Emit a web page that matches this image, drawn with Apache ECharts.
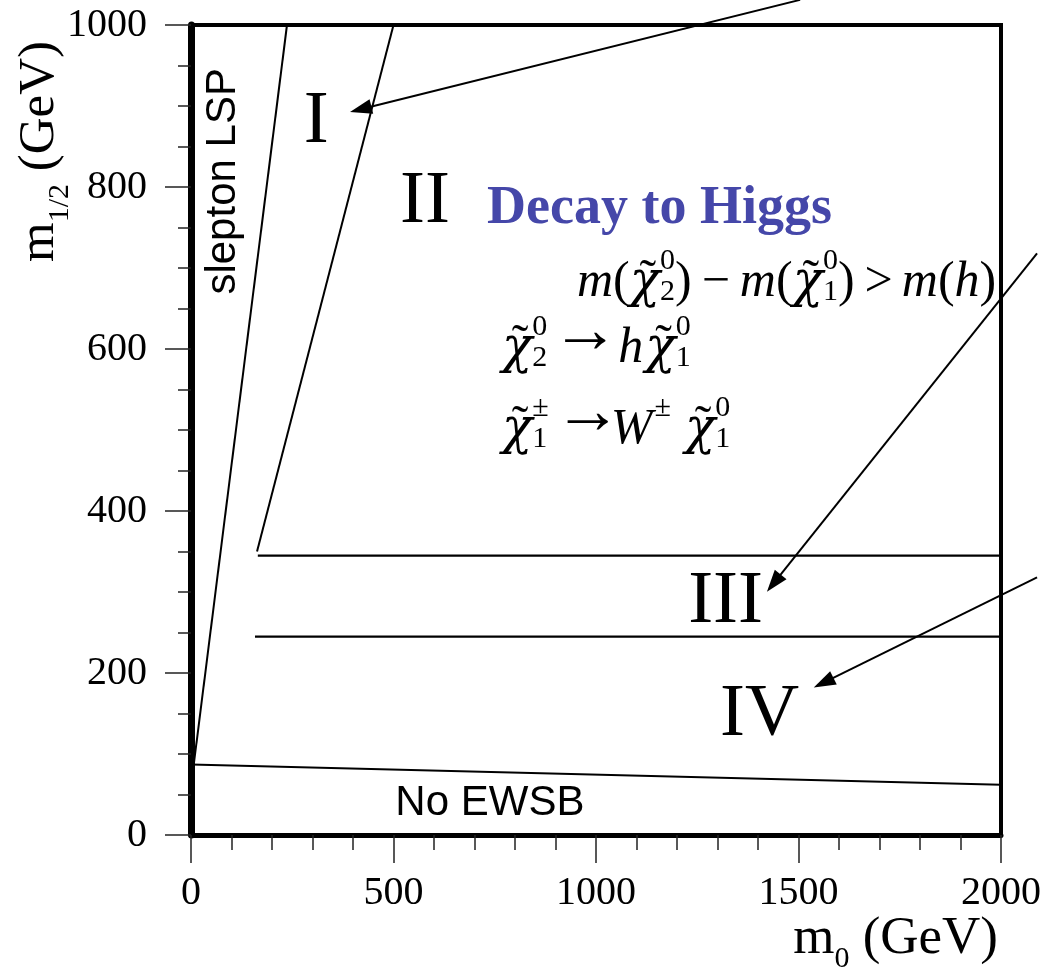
<!DOCTYPE html>
<html><head><meta charset="utf-8">
<script src="https://cdn.jsdelivr.net/npm/echarts@6/dist/echarts.min.js"></script>
<style>html,body{margin:0;padding:0;background:#fff}#c{width:1044px;height:970px}</style>
</head><body><div id="c"></div>
<script>
// ---- data (m0 in GeV, m1/2 in GeV) ----
const xTickValues = [0, 500, 1000, 1500, 2000];
const xTickLabels = ['0', '500', '1000', '1500', '2000'];
const yTickValues = [0, 200, 400, 600, 800, 1000];
const yTickLabels = ['0', '200', '400', '600', '800', '1000'];
const sleptonLSP   = [[0, 60], [237, 1000]];
const boundaryI_II = [[163, 350], [500, 1000]];
const boundaryII_III = [[165, 345], [2000, 345]];
const boundaryIII_IV = [[158, 245], [2000, 245]];
const noEWSB = [[0, 87], [2000, 62]];
const arrowI   = [[1504, 1031], [419, 896]];
const arrowIII = [[2089, 718], [1439, 311]];
const arrowIV  = [[2089, 318], [1562, 188]];

// annotation anchors (data coords of text baseline)
const anno = {
  I: [309, 855.6], II: [578, 756.8], III: [1320, 263], IV: [1404, 123.5],
  decay: [731, 756], noEWSB: [738, 24.7], slepton: [108.6, 807],
  f1: [953, 665.4], f2: [768, 584], f3: [768, 484]
};

const SERIF = '"Liberation Serif", "Times New Roman", serif';
const SANS = '"Liberation Sans", Arial, sans-serif';

const chart = echarts.init(document.getElementById('c'), null, {renderer: 'canvas'});
const lineSeries = (name, data, w) => ({
  type: 'line', name, data, showSymbol: false, symbol: 'none', silent: true,
  lineStyle: {color: '#000', width: w}, z: 3
});
const tickStyle = {color: '#222', width: 1.5};
chart.setOption({
  animation: false,
  grid: {left: 191, right: 43, top: 25, bottom: 135, show: true, borderColor: '#000', borderWidth: 4, backgroundColor: 'transparent'},
  xAxis: {
    type: 'value', min: 0, max: 2000, interval: 500, z: 10,
    axisLine: {show: true, onZero: false, lineStyle: {color: '#000', width: 5}},
    axisTick: {show: true, length: 28, lineStyle: tickStyle},
    minorTick: {show: true, splitNumber: 5, length: 15, lineStyle: tickStyle},
    splitLine: {show: false}, minorSplitLine: {show: false},
    axisLabel: {fontFamily: SERIF, fontSize: 40, color: '#000', margin: 38,
      formatter: v => { const i = xTickValues.indexOf(v); return i < 0 ? '' : xTickLabels[i]; }}
  },
  yAxis: {
    type: 'value', min: 0, max: 1000, interval: 200, z: 10,
    axisLine: {show: true, onZero: false, lineStyle: {color: '#000', width: 7}},
    axisTick: {show: true, length: 26, lineStyle: tickStyle},
    minorTick: {show: true, splitNumber: 4, length: 13, lineStyle: tickStyle},
    splitLine: {show: false}, minorSplitLine: {show: false},
    axisLabel: {fontFamily: SERIF, fontSize: 40, color: '#000', margin: 44,
      formatter: v => { const i = yTickValues.indexOf(v); return i < 0 ? '' : yTickLabels[i]; }}
  },
  series: [
    lineSeries('slepton LSP', sleptonLSP, 2),
    lineSeries('I/II', boundaryI_II, 2),
    lineSeries('II/III', boundaryII_III, 2.3),
    lineSeries('III/IV', boundaryIII_IV, 2.3),
    lineSeries('No EWSB', noEWSB, 2),
    {
      type: 'lines', coordinateSystem: 'cartesian2d', clip: false, silent: true, z: 4,
      symbol: ['none', 'triangle'], symbolSize: [1, [15, 22]],
      lineStyle: {color: '#000', width: 2, opacity: 1, curveness: 0},
      itemStyle: {color: '#000'},
      data: [{coords: arrowI}, {coords: arrowIII}, {coords: arrowIV}]
    }
  ]
});

// ---- text annotations ----
const ctx = document.createElement('canvas').getContext('2d');
function meas(text, font) {
  ctx.font = font; ctx.textBaseline = 'middle';
  const m = ctx.measureText(text);
  const k = ctx.measureText('H').actualBoundingBoxDescent;
  return {w: m.width, k, asc: m.actualBoundingBoxAscent, desc: m.actualBoundingBoxDescent,
    l: m.actualBoundingBoxLeft, r: m.actualBoundingBoxRight};
}
function mk(x, y, text, font, fill, align) {
  return {type: 'text', x: x, y: y, silent: true, z: 20,
    style: {text, font, fill: fill || '#000', align: align || 'left', verticalAlign: 'middle',
      textAlign: align || 'left', textVerticalAlign: 'middle'}};
}
function txt(x, baseline, text, font, fill, align) {
  return mk(x, baseline - meas(text, font).k, text, font, fill, align);
}
// place so that the glyph's ink is vertically centred at cy
function ctxt(x, cy, text, font, align) {
  const m = meas(text, font);
  return mk(x, cy - (m.desc - m.asc) / 2, text, font, '#000', align);
}
const px = p => chart.convertToPixel({gridIndex: 0}, p);

const IT = 'italic 50px ' + SERIF, RM = '50px ' + SERIF, SS = '30px ' + SERIF;
const CHI = 'italic 50px "DejaVu Serif", ' + SERIF;
const ARROW = '68px ' + SERIF;
function formula(x0, base, items) {
  let x = x0; const els = [];
  const put = (t, font, bx, bl, align) => { els.push(txt(bx, bl, t, font, '#000', align)); return meas(t, font).w; };
  for (const it of items) {
    if (it.gap) { x += it.gap; continue; }
    if (it.chi) {
      const w = put('χ', CHI, x, base);
      els.push(ctxt(x + w / 2 + 3, base - 34, '˜', RM, 'center'));
      const sx = x + w;
      let sw = 0;
      if (it.sup) sw = Math.max(sw, put(it.sup, SS, sx, base - 27));
      if (it.sub) sw = Math.max(sw, put(it.sub, SS, sx, base + 4));
      x = sx + sw; continue;
    }
    if (it.sup) { x += put(it.sup, SS, x, base - 27); continue; }
    if (it.arrow) {
      const m = meas('→', ARROW);
      els.push(ctxt(x + m.l, base - 21, '→', ARROW, 'left'));
      x += m.l + m.r; continue;
    }
    x += put(it.t, it.rm ? RM : IT, x, base);
  }
  return els;
}
const f1 = [{t:'m'},{t:'(',rm:1},{chi:1,sup:'0',sub:'2'},{t:')',rm:1},{gap:10},{t:'−',rm:1},{gap:10},
  {t:'m'},{t:'(',rm:1},{chi:1,sup:'0',sub:'1'},{t:')',rm:1},{gap:10},{t:'>',rm:1},{gap:9},
  {t:'m'},{t:'(',rm:1},{t:'h'},{t:')',rm:1}];
const f2 = [{chi:1,sup:'0',sub:'2'},{gap:17},{arrow:1},{gap:12},{t:'h'},{gap:2},{chi:1,sup:'0',sub:'1'}];
const f3 = [{chi:1,sup:'±',sub:'1'},{gap:18},{arrow:1},{gap:2},{t:'W'},{gap:2},{sup:'±'},{gap:14},{chi:1,sup:'0',sub:'1'}];

function build() {
  const els = [];
  const big = '75px ' + SERIF;
  for (const k of ['I', 'II', 'III', 'IV']) { const p = px(anno[k]); els.push(txt(p[0], p[1], k, big, '#000', 'center')); }
  let p = px(anno.decay); els.push(txt(p[0], p[1], 'Decay to Higgs', 'bold 54px ' + SERIF, '#4547a9', 'left'));
  p = px(anno.noEWSB); els.push(txt(p[0], p[1], 'No EWSB', '42px ' + SANS, '#000', 'center'));
  p = px(anno.slepton);
  const sf = '42px ' + SANS, sm = meas('slepton LSP', sf);
  els.push({type: 'text', x: p[0], y: p[1], rotation: Math.PI / 2, silent: true, z: 20,
    style: {text: 'slepton LSP', font: sf, fill: '#000', x: 0, y: -sm.k, align: 'center', verticalAlign: 'middle', textAlign: 'center', textVerticalAlign: 'middle'}});
  for (const [key, items] of [['f1', f1], ['f2', f2], ['f3', f3]]) {
    const q = px(anno[key]); els.push(...formula(q[0], q[1], items));
  }
  const TF = '53px ' + SERIF, TS = '30px ' + SERIF;
  const xt = [['m', TF, 0], ['0', TS, 14], [' (GeV)', TF, 0]];
  let tot = xt.reduce((s, a) => s + meas(a[0], a[1]).w, 0);
  let x = 998 - tot;
  for (const [t, f, dy] of xt) { els.push(txt(x, 953 + dy, t, f)); x += meas(t, f).w; }
  const YF = '51px ' + SERIF;
  const yt = [['m', YF, 0], ['1/2', TS, 15], [' (GeV)', YF, 0]];
  const children = []; x = 0;
  for (const [t, f, dy] of yt) { children.push(txt(x, dy, t, f)); x += meas(t, f).w; }
  els.push({type: 'group', x: 53, y: 262, rotation: Math.PI / 2, children});
  chart.setOption({graphic: {elements: els}});
}
build();
</script>
</body></html>
